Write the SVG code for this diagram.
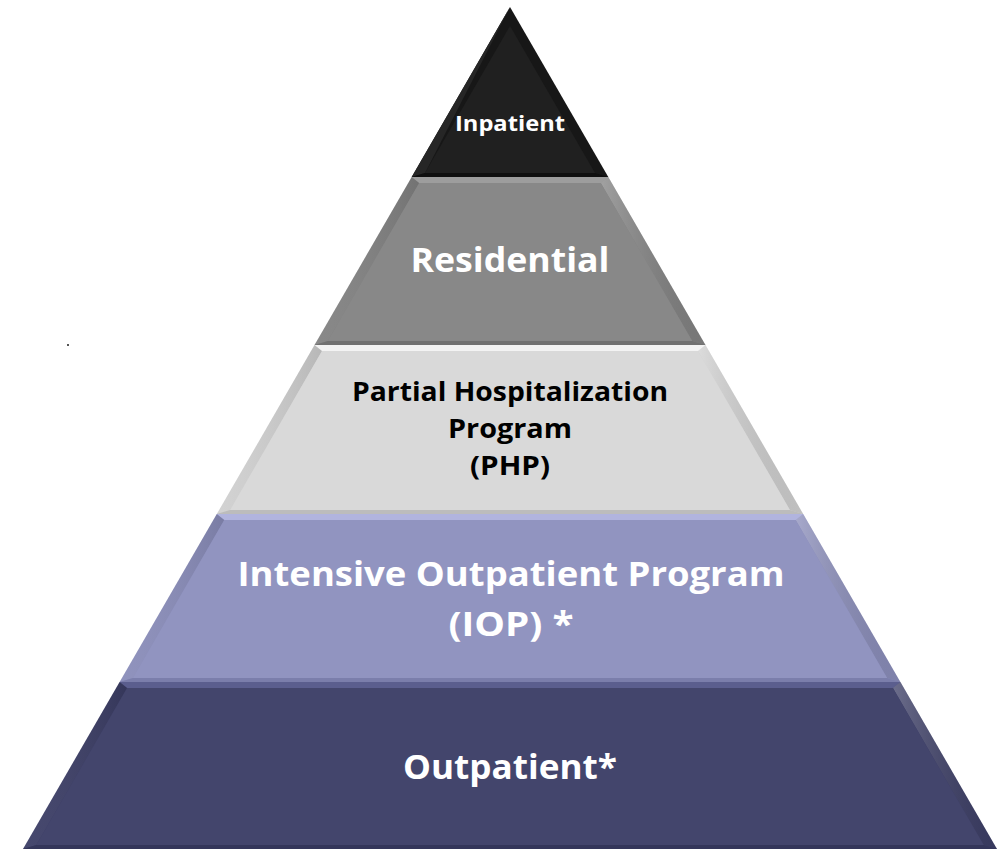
<svg xmlns="http://www.w3.org/2000/svg" width="1005" height="849" viewBox="0 0 1005 849">
  <defs>
    <style>
      .lbl { font-family: "Open Sans", "Noto Sans", "Liberation Sans", sans-serif; font-weight: 700; text-anchor: middle; }
      .w { fill: #ffffff; }
      .k { fill: #000000; }
    </style>
    <linearGradient id="gSideR" x1="0" y1="0" x2="1" y2="0">
      <stop offset="0" stop-color="#ffffff" stop-opacity="0.25"/>
      <stop offset="1" stop-color="#000000" stop-opacity="0.08"/>
    </linearGradient>
    <linearGradient id="gSideL" x1="0" y1="0" x2="1" y2="0">
      <stop offset="0" stop-color="#ffffff" stop-opacity="0.05"/>
      <stop offset="1" stop-color="#000000" stop-opacity="0.12"/>
    </linearGradient>
  </defs>

  <rect width="1005" height="849" fill="#ffffff"/>
  <rect x="67" y="344" width="2" height="2" fill="#555555"/>

  <!-- level 5: outpatient (base) -->
  <g id="outpatient">
    <polygon points="119.6,682 900.4,682 997,849 23,849" fill="#3c3e66"/>
    <polygon points="119.6,682 900.4,682 892.9,688 127.1,688" fill="#5b5e8e"/>
    <polygon points="119.6,682 127.1,688 36.3,845 23,849" fill="url(#gSideL)"/>
    <polygon points="900.4,682 997,849 983.7,845 892.9,688" fill="url(#gSideR)"/>
    <polygon points="36.3,845 983.7,845 997,849 23,849" fill="#34365a"/>
    <polygon points="127.1,688 892.9,688 983.7,845 36.3,845" fill="#43456c"/>
    <text class="lbl w" x="510" y="779" font-size="34" textLength="214" lengthAdjust="spacingAndGlyphs">Outpatient*</text>
  </g>

  <!-- level 4: intensive outpatient -->
  <g id="iop">
    <polygon points="216.8,514 803.2,514 900.4,682 119.6,682" fill="#8a8dba"/>
    <polygon points="216.8,514 803.2,514 795.7,520 224.3,520" fill="#b1b4de"/>
    <polygon points="216.8,514 224.3,520 132.9,678 119.6,682" fill="url(#gSideL)"/>
    <polygon points="803.2,514 900.4,682 887.1,678 795.7,520" fill="url(#gSideR)"/>
    <polygon points="132.9,678 887.1,678 900.4,682 119.6,682" fill="#7b7eab"/>
    <polygon points="224.3,520 795.7,520 887.1,678 132.9,678" fill="#9194c0"/>
    <text class="lbl w" x="511" y="586" font-size="34" textLength="547" lengthAdjust="spacingAndGlyphs">Intensive Outpatient Program</text>
    <text class="lbl w" x="511" y="636" font-size="34" textLength="125" lengthAdjust="spacingAndGlyphs">(IOP) *</text>
  </g>

  <!-- level 3: partial hospitalization -->
  <g id="php">
    <polygon points="314.5,345 705.5,345 803.2,514 216.8,514" fill="#d0d0d0"/>
    <polygon points="314.5,345 705.5,345 698,351 322,351" fill="#f3f3f3"/>
    <polygon points="314.5,345 322,351 230.1,510 216.8,514" fill="url(#gSideL)"/>
    <polygon points="705.5,345 803.2,514 789.9,510 698,351" fill="url(#gSideR)"/>
    <polygon points="230.1,510 789.9,510 803.2,514 216.8,514" fill="#bcbcbc"/>
    <polygon points="322,351 698,351 789.9,510 230.1,510" fill="#d9d9d9"/>
    <text class="lbl k" x="510" y="401" font-size="27" textLength="316" lengthAdjust="spacingAndGlyphs">Partial Hospitalization</text>
    <text class="lbl k" x="510" y="438" font-size="27" textLength="124" lengthAdjust="spacingAndGlyphs">Program</text>
    <text class="lbl k" x="510" y="475" font-size="27" textLength="80" lengthAdjust="spacingAndGlyphs">(PHP)</text>
  </g>

  <!-- level 2: residential -->
  <g id="residential">
    <polygon points="411.7,177 608.3,177 705.5,345 314.5,345" fill="#828282"/>
    <polygon points="411.7,177 608.3,177 600.8,183 419.2,183" fill="#9d9d9d"/>
    <polygon points="411.7,177 419.2,183 327.8,341 314.5,345" fill="url(#gSideL)"/>
    <polygon points="608.3,177 705.5,345 692.2,341 600.8,183" fill="url(#gSideR)"/>
    <polygon points="327.8,341 692.2,341 705.5,345 314.5,345" fill="#717171"/>
    <polygon points="419.2,183 600.8,183 692.2,341 327.8,341" fill="#888888"/>
    <text class="lbl w" x="510" y="272" font-size="34" textLength="199" lengthAdjust="spacingAndGlyphs">Residential</text>
  </g>

  <!-- level 1: inpatient (apex) -->
  <g id="inpatient">
    <polygon points="510,7 608.3,177 411.7,177" fill="#171717"/>
    <polygon points="510,7 425,173 411.7,177" fill="#262626"/>
    <polygon points="425,173 595,173 608.3,177 411.7,177" fill="#0f0f0f"/>
    <polygon points="510,26 595,173 425,173" fill="#202020"/>
    <text class="lbl w" x="510" y="131" font-size="22" textLength="110" lengthAdjust="spacingAndGlyphs">Inpatient</text>
  </g>
</svg>
